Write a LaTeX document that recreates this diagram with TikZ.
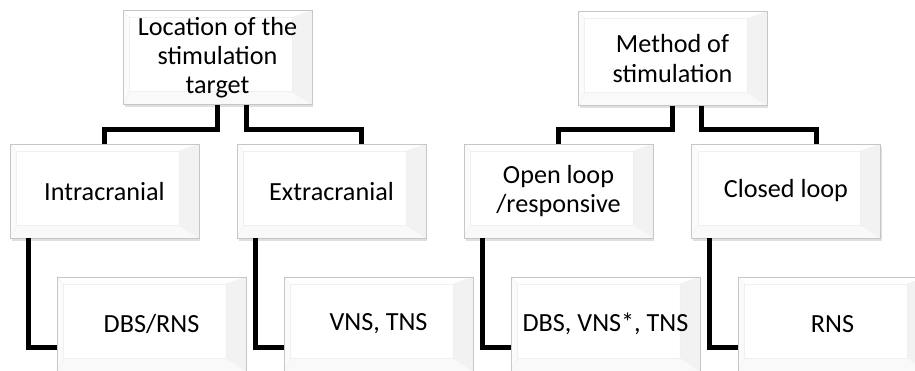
\documentclass[tikz,border=0pt]{standalone}
\usepackage{fontspec}
\setmainfont{Carlito}
\usepackage{tikz}
\usetikzlibrary{shadows}

\tikzset{
  bevelbox/.style={draw=gray!45, line width=0.5pt, fill=white, minimum width=3.78cm, minimum height=1.88cm,
    inner sep=0pt, align=center, font=\fontsize{14.9pt}{16.6pt}\selectfont,
    drop shadow={opacity=0.25, shadow xshift=0.03cm, shadow yshift=-0.05cm},
    path picture={
      \coordinate (bl) at ([shift={(0.13cm,0.26cm)}]path picture bounding box.south west);
      \coordinate (tr) at ([shift={(-0.4cm,-0.14cm)}]path picture bounding box.north east);
      \fill[gray!10] (path picture bounding box.south east) -- (path picture bounding box.north east) -- (tr) -- (tr |- bl) -- cycle;
      \fill[gray!5] (path picture bounding box.south west) -- (path picture bounding box.south east) -- (tr |- bl) -- (bl) -- cycle;
      \fill[gray!3] (path picture bounding box.south west) -- (bl) -- (bl |- tr) -- (path picture bounding box.north west) -- cycle;
      \draw[gray!12, line width=0.3pt] (bl) rectangle (tr);
      \draw[gray!10, line width=0.3pt] (path picture bounding box.south west) -- (bl) (path picture bounding box.north west) -- (bl |- tr)
        (path picture bounding box.north east) -- (tr) (path picture bounding box.south east) -- (tr |- bl);
    }},
  branch/.style={line width=0.1cm}
}

\begin{document}
\begin{tikzpicture}[x=0.02cm, y=-0.02cm]
  \useasboundingbox (0,0) rectangle (915,370);
  \clip (0,0) rectangle (915,370);
  \node[bevelbox] (loc) at (217.5,57.5) {Location of the\\stimulation\\target};
  \node[bevelbox] (meth) at (672.5,58.5) {Method of\\stimulation};
  \node[bevelbox] (intra) at (104.5,191) {Intracranial};
  \node[bevelbox] (extra) at (331.5,191) {Extracranial};
  \node[bevelbox] (open) at (558.5,191) {Open loop\\/responsive};
  \node[bevelbox] (closed) at (786,191) {Closed loop};
  \node[bevelbox] (dbsrns) at (151.5,324) {DBS/RNS};
  \node[bevelbox] (vnstns) at (378.5,324) {VNS, TNS};
  \node[bevelbox] (dbsvns) at (605.5,324) {DBS, VNS*, TNS};
  \node[bevelbox] (rns) at (832.5,324) {RNS};
  \draw[branch] (loc.south) -- ++(0,24.5) -| (intra.north);
  \draw[branch] ([xshift=0.58cm]loc.south) -- ++(0,24.5) -| ([xshift=0.6cm]extra.north);
  \draw[branch] (meth.south) -- ++(0,24) -| (open.north);
  \draw[branch] ([xshift=0.58cm]meth.south) -- ++(0,24) -| ([xshift=0.6cm]closed.north);
  \draw[branch] ([xshift=0.37cm]intra.south west) |- ([yshift=0.48cm]dbsrns.south west);
  \draw[branch] ([xshift=0.37cm]extra.south west) |- ([yshift=0.48cm]vnstns.south west);
  \draw[branch] ([xshift=0.37cm]open.south west) |- ([yshift=0.48cm]dbsvns.south west);
  \draw[branch] ([xshift=0.37cm]closed.south west) |- ([yshift=0.48cm]rns.south west);
\end{tikzpicture}
\end{document}
